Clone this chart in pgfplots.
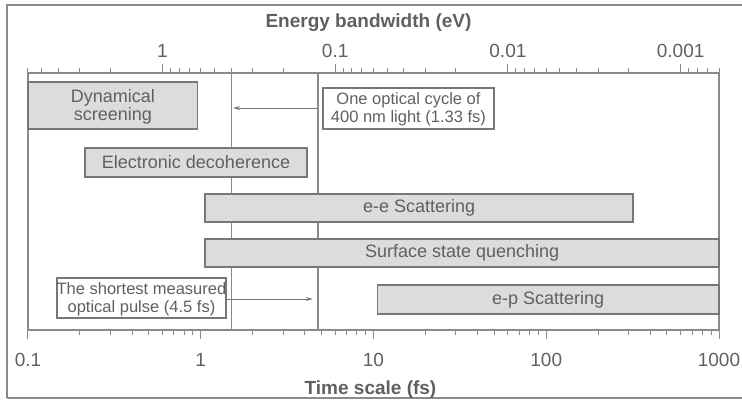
\documentclass[border=0pt]{standalone}
\usepackage{pgfplots}
\pgfplotsset{compat=1.18}
\usetikzlibrary{arrows.meta}
\usepackage{fontspec}
\setmainfont{Liberation Sans}
\definecolor{axgray}{HTML}{8A8A8A}
\definecolor{txtgray}{HTML}{606060}
\definecolor{barfill}{HTML}{DCDCDC}
\definecolor{bardraw}{HTML}{777777}
\tikzset{bartext/.style={text=txtgray, align=center, inner sep=0pt, font=\fontsize{18}{18}\selectfont},
  boxtext/.style={text=txtgray, align=center, inner sep=0pt, font=\fontsize{16.5}{18}\selectfont}}
\begin{document}
\begin{tikzpicture}[x=1pt,y=1pt]
\useasboundingbox (0,0) rectangle (742,400);
\draw[axgray, line width=1.2pt] (7,2) -- (7,395) -- (750,395);
\draw[axgray, line width=1.2pt] (7,2) -- (750,2);
\begin{axis}[xmode=log, xmin=0.1, xmax=1000, ymin=70, ymax=327,
  width=691pt, height=257pt, scale only axis, at={(28pt,70pt)}, anchor=south west,
  clip=false, axis line style={axgray, line width=1.2pt},
  xtick=\empty, ytick=\empty, minor xtick={},
  xlabel={Time scale (fs)},
  xlabel style={font=\fontsize{19}{22}\selectfont\bfseries, text=txtgray,
    at={(axis description cs:0.5,0)}, anchor=base, yshift=-64pt, xshift=-3pt}]
\addplot[axgray, line width=1.2pt] coordinates {(1.5,70) (1.5,327)};
\addplot[axgray, line width=1.2pt] coordinates {(4.77,70) (4.77,327)};
\addplot[fill=barfill, draw=bardraw, line width=1.3pt] coordinates {(0.1,271) (0.96,271) (0.96,318) (0.1,318)} -- cycle;
\addplot[fill=barfill, draw=bardraw, line width=1.3pt] coordinates {(0.214,223) (4.12,223) (4.12,252) (0.214,252)} -- cycle;
\addplot[fill=barfill, draw=bardraw, line width=1.3pt] coordinates {(1.06,178) (318,178) (318,206) (1.06,206)} -- cycle;
\addplot[fill=barfill, draw=bardraw, line width=1.3pt] coordinates {(1.06,133) (1000,133) (1000,161) (1.06,161)} -- cycle;
\addplot[fill=barfill, draw=bardraw, line width=1.3pt] coordinates {(10.5,86) (1000,86) (1000,115) (10.5,115)} -- cycle;
\addplot[fill=white, draw=bardraw, line width=1.3pt] coordinates {(5.10,271) (49.8,271) (49.8,312) (5.10,312)} -- cycle;
\addplot[fill=white, draw=bardraw, line width=1.3pt] coordinates {(0.147,82) (1.40,82) (1.40,122) (0.147,122)} -- cycle;
\addplot[bardraw, line width=1pt, -{Stealth[length=7pt,width=4pt]}] coordinates {(4.77,292) (1.537,292)};
\addplot[bardraw, line width=1pt, -{Stealth[length=7pt,width=4pt]}] coordinates {(1.40,101) (4.46,101)};
\node[bartext] at (axis cs:0.31,293.5) {Dynamical\\screening};
\node[bartext] at (axis cs:0.939,237.5) {Electronic decoherence};
\node[bartext] at (axis cs:18.4,192) {e-e Scattering};
\node[bartext] at (axis cs:32.6,147) {Surface state quenching};
\node[bartext] at (axis cs:102.5,100.5) {e-p Scattering};
\node[boxtext] at (axis cs:15.94,290.5) {One optical cycle of\\400 nm light (1.33 fs)};
\node[boxtext] at (axis cs:0.4537,101) {The shortest measured\\optical pulse (4.5 fs)};
\end{axis}
\begin{axis}[xmode=log, xmin=0.1, xmax=1000, ymin=70, ymax=327,
  width=691pt, height=257pt, scale only axis, at={(28pt,70pt)}, anchor=south west,
  axis line style={axgray, line width=1.2pt},
  xtick style={axgray, line width=1pt}, xtick align=outside,
  major tick length=9pt, minor tick length=5pt,
  ticklabel style={font=\fontsize{19}{22}\selectfont, text=txtgray},
  xticklabel style={yshift=-11pt},
  axis x line*=bottom, axis y line=none,
  xtick={0.1,1,10,100,1000}, xticklabels={0.1,1,10,100,1000},
  minor xtick={0.2,0.3,0.4,0.5,0.6,0.7,0.8,0.9,2,3,4,5,6,7,8,9,20,30,40,50,60,70,80,90,200,300,400,500,600,700,800,900}]
\end{axis}
\begin{axis}[xmode=log, xmin=0.1, xmax=1000, ymin=70, ymax=327,
  width=691pt, height=257pt, scale only axis, at={(28pt,70pt)}, anchor=south west,
  axis line style={axgray, line width=1.2pt},
  tick style={axgray, line width=1pt}, tick align=outside,
  major tick length=9pt, minor tick length=5pt,
  ticklabel style={font=\fontsize{19}{22}\selectfont, text=txtgray},
  xticklabel style={yshift=3pt},
  axis x line*=top, axis y line=none,
  xtick={0.6,6,60,600}, xticklabels={1,0.1,0.01,0.001},
  minor xtick={0.1,0.12,0.15,0.2,0.3,0.6667,0.75,0.8571,1,1.2,1.5,2,3,6.667,7.5,8.571,10,12,15,20,30,66.67,75,85.71,100,120,150,200,300,666.7,750,857.1,1000},
  xlabel={Energy bandwidth (eV)},
  xlabel style={font=\fontsize{19}{22}\selectfont\bfseries, text=txtgray,
    at={(axis description cs:0.5,1)}, anchor=base, yshift=45pt, xshift=-5pt}]
\end{axis}
\end{tikzpicture}
\end{document}
